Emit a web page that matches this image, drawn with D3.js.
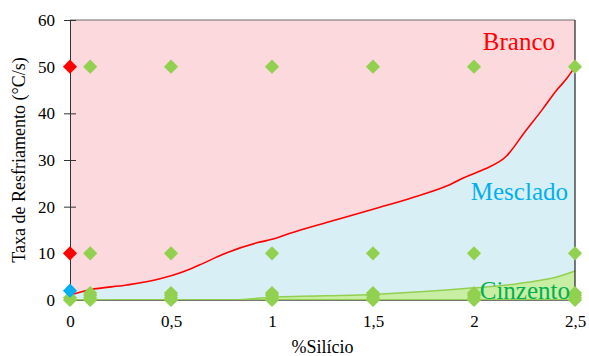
<!DOCTYPE html>
<html>
<head>
<meta charset="utf-8">
<script src="https://cdn.jsdelivr.net/npm/d3@7"></script>
<style>
  body { margin: 0; background: #fff; }
  svg text { font-family: "Liberation Serif", "Times New Roman", "DejaVu Serif", serif !important; }
</style>
</head>
<body>
<svg id="chart"></svg>
<script>
// Branco / Mesclado boundary (red line)
const siBranco   = [0, 0.1, 0.28, 0.45, 0.55, 0.64, 0.78, 0.93, 1.0, 1.09, 1.27, 1.53, 1.73, 1.88, 1.95, 2.05, 2.16, 2.25, 2.34, 2.41, 2.46, 2.5];
const rateBranco = [1.1, 2.2, 3.2, 4.6, 5.9, 7.5, 10.2, 12.3, 13.0, 14.3, 16.6, 19.8, 22.4, 24.7, 26.2, 28.0, 30.8, 35.9, 40.9, 45.0, 47.5, 50];

// Mesclado / Cinzento boundary (green area)
const siCinz   = [0, 0.78, 1.0, 1.5, 2.0, 2.2, 2.3, 2.4, 2.5];
const rateCinz = [0, 0, 0.6, 1.2, 2.6, 3.4, 4.0, 4.8, 6.2];

// observed points
const siGrid   = [0.1, 0.5, 1, 1.5, 2, 2.5];
const rateGrid = [50, 10, 1.5, 1, 0.5, 0];
const siZero   = [0, 0];
const rateZeroGreen = [0.5, 0];
const rateZeroRed   = [50, 10];
const rateZeroBlue  = [2];

const xTicks = [0, 0.5, 1, 1.5, 2, 2.5];
const yTicks = [0, 10, 20, 30, 40, 50, 60];

const W = 589, H = 356;
const m = {top: 20, right: 14, bottom: 56, left: 70};
const serif = '"Liberation Serif", "Times New Roman", "DejaVu Serif", serif';

const svg = d3.select('#chart').attr('width', W).attr('height', H);

const x = d3.scaleLinear().domain([0, 2.5]).range([m.left, W - m.right]);
const y = d3.scaleLinear().domain([0, 60]).range([H - m.bottom, m.top]);

const pink = '#fbd9dc', blue = '#d9eff6', lightGreen = '#c8eea4', green = '#92d050';

// background (Branco)
svg.append('rect')
  .attr('x', x(0)).attr('y', y(60))
  .attr('width', x(2.5) - x(0)).attr('height', y(0) - y(60))
  .attr('fill', pink);

const bData = siBranco.map((s, i) => ({si: s, r: rateBranco[i]}));
const cData = siCinz.map((s, i) => ({si: s, r: rateCinz[i]}));

// Mesclado area
svg.append('path')
  .datum(bData)
  .attr('fill', blue)
  .attr('d', d3.area().x(d => x(d.si)).y0(y(0)).y1(d => y(d.r)).curve(d3.curveMonotoneX));

// Cinzento area
svg.append('path')
  .datum(cData)
  .attr('fill', lightGreen)
  .attr('d', d3.area().x(d => x(d.si)).y0(y(0)).y1(d => y(d.r)).curve(d3.curveMonotoneX));

svg.append('path')
  .datum(cData)
  .attr('fill', 'none')
  .attr('stroke', green)
  .attr('stroke-width', 1.5)
  .attr('d', d3.line().x(d => x(d.si)).y(d => y(d.r)).curve(d3.curveMonotoneX));

svg.append('line')
  .attr('x1', x(0)).attr('x2', x(2.5)).attr('y1', y(0)).attr('y2', y(0))
  .attr('stroke', green).attr('stroke-width', 2);

// red boundary
svg.append('path')
  .datum(bData)
  .attr('fill', 'none')
  .attr('stroke', '#ff0000')
  .attr('stroke-width', 1.6)
  .attr('d', d3.line().x(d => x(d.si)).y(d => y(d.r)).curve(d3.curveMonotoneX));

// frame
svg.append('line').attr('x1', x(0)).attr('x2', x(2.5)).attr('y1', y(60)).attr('y2', y(60))
  .attr('stroke', '#6d6d6d').attr('stroke-width', 1);
svg.append('line').attr('x1', x(2.5)).attr('x2', x(2.5)).attr('y1', y(60)).attr('y2', y(0))
  .attr('stroke', '#222').attr('stroke-width', 1.2);

// axes
const yAxis = svg.append('g')
  .attr('transform', `translate(${x(0)},0)`)
  .call(d3.axisLeft(y).tickValues(yTicks).tickSize(6).tickPadding(9));
yAxis.attr('font-family', serif);
yAxis.select('.domain').attr('stroke', '#333');
yAxis.selectAll('.tick line').attr('stroke', '#333').attr('x2', 6).attr('x1', -6);
yAxis.selectAll('.tick text').attr('font-size', 17).attr('fill', '#000');
yAxis.select('.tick:first-of-type line').remove();

const xAxis = svg.append('g')
  .attr('transform', `translate(0,${y(0)})`)
  .call(d3.axisBottom(x).tickValues(xTicks).tickSize(0).tickPadding(15)
    .tickFormat(d => String(d).replace('.', ',')));
xAxis.attr('font-family', serif);
xAxis.select('.domain').attr('stroke', '#777');
xAxis.selectAll('.tick text').attr('font-size', 17).attr('fill', '#000');

// diamonds
const diamond = d3.symbol(d3.symbolSquare, 100);
function drawPts(pts, color) {
  svg.append('g').selectAll('path')
    .data(pts)
    .join('path')
    .attr('d', diamond)
    .attr('fill', color)
    .attr('transform', d => `translate(${x(d.si)},${y(d.r)}) rotate(45)`);
}
const greenPts = [];
siGrid.forEach(s => rateGrid.forEach(r => greenPts.push({si: s, r: r})));
rateZeroGreen.forEach((r, i) => greenPts.push({si: siZero[i], r: r}));
drawPts(greenPts, green);
drawPts(rateZeroRed.map(r => ({si: 0, r: r})), '#ff0000');
drawPts(rateZeroBlue.map(r => ({si: 0, r: r})), '#00b0f0');

// region labels
function label(tx, ty, color, str) {
  svg.append('text').attr('x', tx).attr('y', ty).attr('text-anchor', 'end')
    .attr('font-family', serif).attr('font-size', 25).attr('fill', color).text(str);
}
label(555, 50, '#ff0000', 'Branco');
label(568, 200, '#00b0f0', 'Mesclado');
label(570, 299, '#00b050', 'Cinzento');

// axis titles
svg.append('text').attr('x', x(1.25)).attr('y', 353).attr('text-anchor', 'middle')
  .attr('font-family', serif).attr('font-size', 18).text('%Silício');
svg.append('text')
  .attr('transform', `translate(25,${(y(0) + y(60)) / 2}) rotate(-90)`)
  .attr('text-anchor', 'middle').attr('font-family', serif).attr('font-size', 18)
  .text('Taxa de Resfriamento (°C/s)');
</script>
</body>
</html>
